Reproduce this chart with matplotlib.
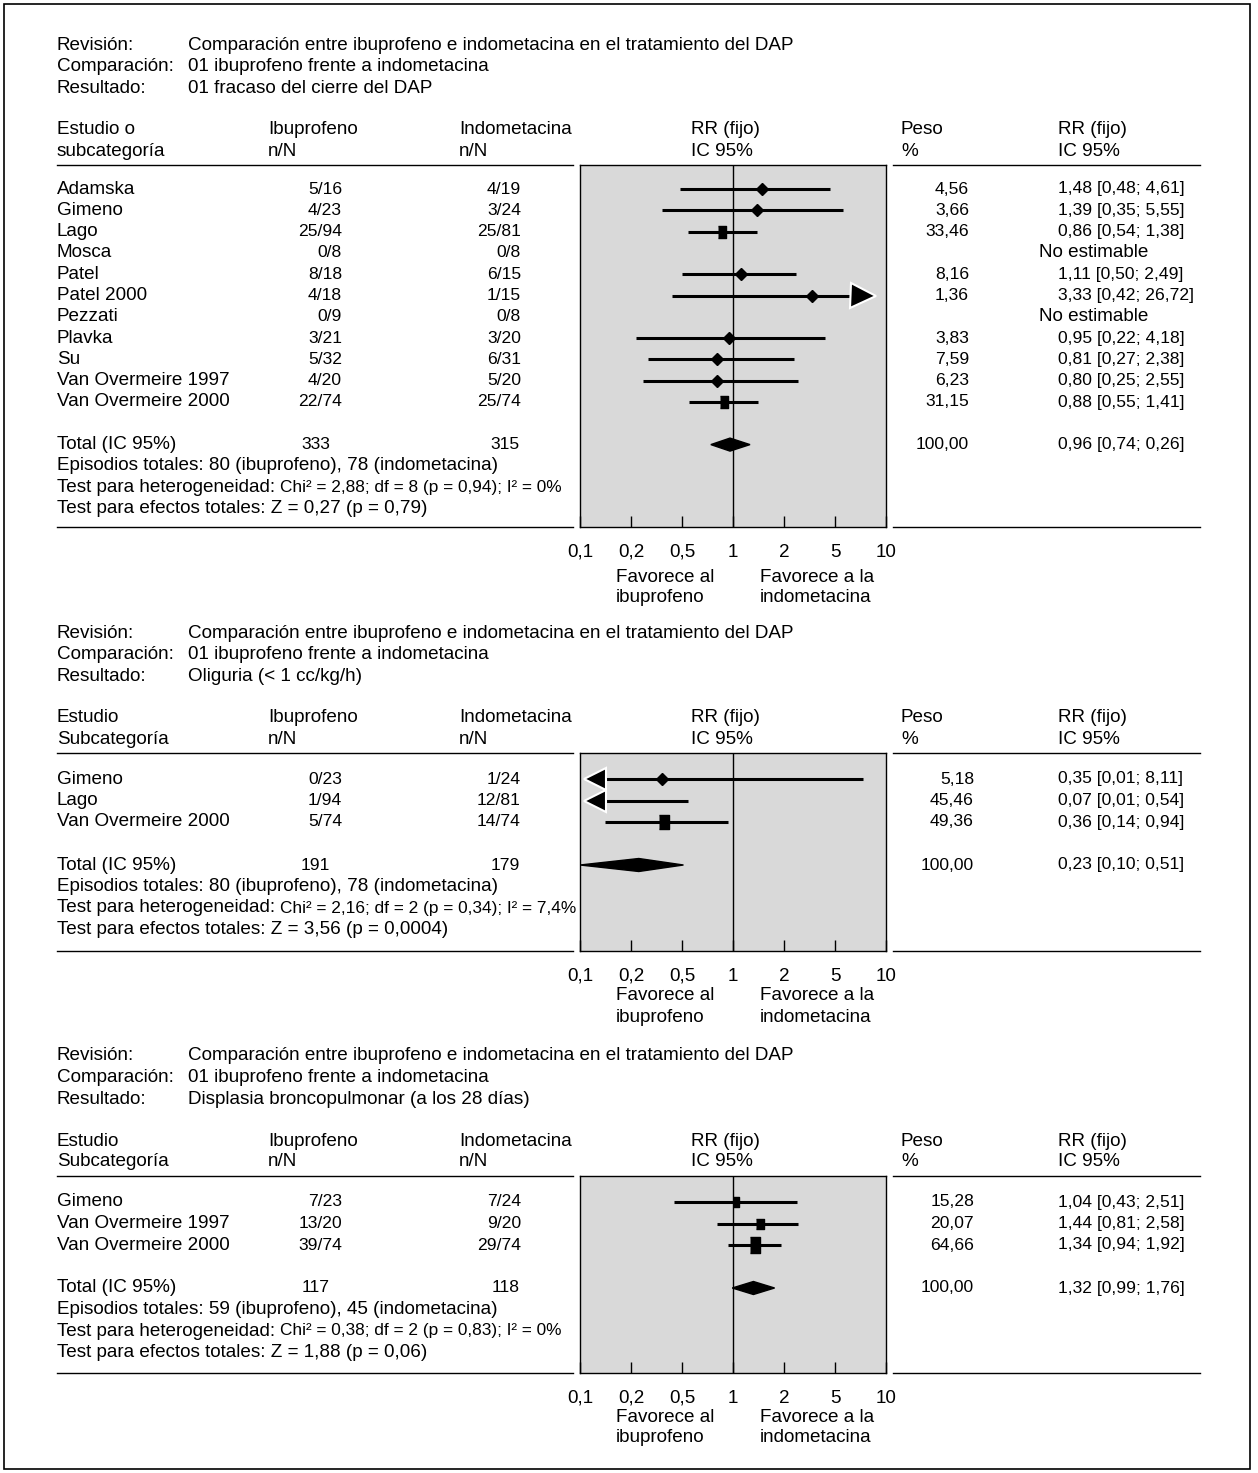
import numpy as np
import matplotlib.pyplot as plt
from matplotlib.patches import Rectangle, Polygon

plt.rcParams['font.family'] = ['Liberation Sans', 'DejaVu Sans']

W, H = 1258, 1473
FS = 13.6      # words
NUM_FS = 12.6  # figures are set a little tighter in the original
HET_FS = 12.4

# ---- data ----
review = 'Comparación entre ibuprofeno e indometacina en el tratamiento del DAP'
comparison = '01 ibuprofeno frente a indometacina'

# panel 1
p1_outcome = '01 fracaso del cierre del DAP'
p1_studies = ['Adamska', 'Gimeno', 'Lago', 'Mosca', 'Patel', 'Patel 2000', 'Pezzati',
              'Plavka', 'Su', 'Van Overmeire 1997', 'Van Overmeire 2000']
p1_ibu = ['5/16', '4/23', '25/94', '0/8', '8/18', '4/18', '0/9', '3/21', '5/32', '4/20', '22/74']
p1_indo = ['4/19', '3/24', '25/81', '0/8', '6/15', '1/15', '0/8', '3/20', '6/31', '5/20', '25/74']
p1_weight = [4.56, 3.66, 33.46, np.nan, 8.16, 1.36, np.nan, 3.83, 7.59, 6.23, 31.15]
p1_rr = [1.48, 1.39, 0.86, np.nan, 1.11, 3.33, np.nan, 0.95, 0.81, 0.80, 0.88]
p1_lo = [0.48, 0.35, 0.54, np.nan, 0.50, 0.42, np.nan, 0.22, 0.27, 0.25, 0.55]
p1_hi = [4.61, 5.55, 1.38, np.nan, 2.49, 26.72, np.nan, 4.18, 2.38, 2.55, 1.41]
p1_total_n = ('333', '315')
p1_total = (0.96, 0.74, 1.26)
p1_total_txt = '0,96 [0,74; 0,26]'   # as printed
p1_events = 'Episodios totales: 80 (ibuprofeno), 78 (indometacina)'
p1_het = 'Chi² = 2,88; df = 8 (p = 0,94); I² = 0%'
p1_z = 'Test para efectos totales: Z = 0,27 (p = 0,79)'

# panel 2
p2_outcome = 'Oliguria (< 1 cc/kg/h)'
p2_studies = ['Gimeno', 'Lago', 'Van Overmeire 2000']
p2_ibu = ['0/23', '1/94', '5/74']
p2_indo = ['1/24', '12/81', '14/74']
p2_weight = [5.18, 45.46, 49.36]
p2_rr = [0.35, 0.07, 0.36]
p2_lo = [0.01, 0.01, 0.14]
p2_hi = [8.11, 0.54, 0.94]
p2_total_n = ('191', '179')
p2_total = (0.23, 0.10, 0.51)
p2_total_txt = '0,23 [0,10; 0,51]'
p2_events = 'Episodios totales: 80 (ibuprofeno), 78 (indometacina)'
p2_het = 'Chi² = 2,16; df = 2 (p = 0,34); I² = 7,4%'
p2_z = 'Test para efectos totales: Z = 3,56 (p = 0,0004)'

# panel 3
p3_outcome = 'Displasia broncopulmonar (a los 28 días)'
p3_studies = ['Gimeno', 'Van Overmeire 1997', 'Van Overmeire 2000']
p3_ibu = ['7/23', '13/20', '39/74']
p3_indo = ['7/24', '9/20', '29/74']
p3_weight = [15.28, 20.07, 64.66]
p3_rr = [1.04, 1.44, 1.34]
p3_lo = [0.43, 0.81, 0.94]
p3_hi = [2.51, 2.58, 1.92]
p3_total_n = ('117', '118')
p3_total = (1.32, 0.99, 1.76)
p3_total_txt = '1,32 [0,99; 1,76]'
p3_events = 'Episodios totales: 59 (ibuprofeno), 45 (indometacina)'
p3_het = 'Chi² = 0,38; df = 2 (p = 0,83); I² = 0%'
p3_z = 'Test para efectos totales: Z = 1,88 (p = 0,06)'

TICKS = [0.1, 0.2, 0.5, 1, 2, 5, 10]
TICK_LABELS = ['0,1', '0,2', '0,5', '1', '2', '5', '10']

# ticks are equally spaced on the printed axis -> piecewise log scale
LT = np.log10(TICKS)
POS = np.arange(len(TICKS), dtype=float)


def fwd(x):
    lx = np.log10(np.clip(np.asarray(x, dtype=float), 1e-9, None))
    y = np.interp(lx, LT, POS)
    y = np.where(lx < LT[0], (lx - LT[0]) / (LT[1] - LT[0]), y)
    y = np.where(lx > LT[-1], POS[-1] + (lx - LT[-1]) / (LT[-1] - LT[-2]), y)
    return y


def inv(y):
    y = np.asarray(y, dtype=float)
    lx = np.interp(y, POS, LT)
    lx = np.where(y < 0, LT[0] + y * (LT[1] - LT[0]), lx)
    lx = np.where(y > POS[-1], LT[-1] + (y - POS[-1]) * (LT[-1] - LT[-2]), lx)
    return 10 ** lx


def fmt(v):
    return f'{v:.2f}'.replace('.', ',')


fig = plt.figure(figsize=(W / 100, H / 100), dpi=100)
bg = fig.add_axes([0, 0, 1, 1])
bg.set_xlim(0, W)
bg.set_ylim(H, 0)
bg.axis('off')
bg.add_patch(Rectangle((4, 4), 1246, 1465, fill=False, lw=1.2, ec='black'))
renderer = fig.canvas.get_renderer()


def txt(x, y, s, ha='left', size=FS):
    return bg.text(x, y, s, ha=ha, va='center', fontsize=size)


# arrow heads sit just inside the box edges (fraction of the scaled axis)
RIGHT_ARROW = float(inv(0.925 * POS[-1]))
LEFT_ARROW = float(inv(0.05 * POS[-1]))


def draw_panel(y0, row0, pitch, axis_y, fav_dy, first_hdr, outcome, studies, ibu, indo,
               weight, rr, lo, hi, total_n, total, total_txt, events, het, ztxt, peso_x):
    # header block
    for i, (lab, val) in enumerate([('Revisión:', review), ('Comparación:', comparison),
                                    ('Resultado:', outcome)]):
        txt(57, y0 + i * 21.7, lab)
        txt(188, y0 + i * 21.7, val)
    h1, h2 = y0 + 85, y0 + 106
    txt(57, h1, first_hdr[0]); txt(57, h2, first_hdr[1])
    txt(268, h1, 'Ibuprofeno'); txt(268, h2, 'n/N')
    txt(459, h1, 'Indometacina'); txt(459, h2, 'n/N')
    txt(691, h1, 'RR (fijo)'); txt(691, h2, 'IC 95%')
    txt(901, h1, 'Peso'); txt(901, h2, '%')
    txt(1058, h1, 'RR (fijo)'); txt(1058, h2, 'IC 95%')
    top = y0 + 120
    for yy in (top, axis_y):
        bg.plot([57, 573], [yy, yy], color='black', lw=1)
        bg.plot([893, 1200], [yy, yy], color='black', lw=1)

    rows = [row0 + i * pitch for i in range(len(studies))]
    for y, s, a, b, w, r, l, h in zip(rows, studies, ibu, indo, weight, rr, lo, hi):
        txt(57, y, s)
        txt(342, y, a, ha='right', size=NUM_FS)
        txt(521, y, b, ha='right', size=NUM_FS)
        if np.isnan(r):
            txt(1039, y, 'No estimable')
        else:
            txt(peso_x, y, fmt(w), ha='right', size=NUM_FS)
            txt(1058, y, f'{fmt(r)} [{fmt(l)}; {fmt(h)}]', size=NUM_FS)
    ty = row0 + (len(studies) + 1) * pitch
    txt(57, ty, 'Total (IC 95%)')
    txt(330, ty, total_n[0], ha='right', size=NUM_FS)
    txt(520, ty, total_n[1], ha='right', size=NUM_FS)
    txt(peso_x, ty, '100,00', ha='right', size=NUM_FS)
    txt(1058, ty, total_txt, size=NUM_FS)
    txt(57, ty + pitch, events)
    lab = txt(57, ty + 2 * pitch, 'Test para heterogeneidad:')
    x_end = bg.transData.inverted().transform(lab.get_window_extent(renderer).p1)[0]
    txt(x_end + 5, ty + 2 * pitch, het, size=HET_FS)
    txt(57, ty + 3 * pitch, ztxt)

    # forest plot box
    ax = fig.add_axes([580 / W, 1 - axis_y / H, 306 / W, (axis_y - top) / H])
    ax.set_facecolor('#d9d9d9')
    ax.set_xscale('function', functions=(fwd, inv))
    ax.set_xlim(0.1, 10)
    ax.set_ylim(axis_y, top)
    ax.set_yticks([])
    ax.set_xticks(TICKS, labels=TICK_LABELS)
    ax.tick_params(axis='x', direction='in', length=8, width=1, labelsize=FS, pad=12)
    for sp in ax.spines.values():
        sp.set_linewidth(1)
    ax.axvline(1, color='black', lw=1)
    for y, w, r, l, h in zip(rows, weight, rr, lo, hi):
        if np.isnan(r):
            continue
        ax.plot([max(l, LEFT_ARROW), min(h, RIGHT_ARROW)], [y, y], color='black', lw=2.2,
                solid_capstyle='butt')
        if w < 10:
            ax.plot([r], [y], marker='D', ms=5.8, color='black', ls='none')
        else:
            hpx = 4 + 1.5 * np.sqrt(w)
            ax.plot([r], [y], marker=[(-0.34, -0.5), (0.34, -0.5), (0.34, 0.5), (-0.34, 0.5)],
                    ms=hpx * 0.72, color='black', ls='none')
        if h > 10:
            ax.plot([RIGHT_ARROW], [y], marker='>', ms=18, color='black', mec='white',
                    mew=1.5, ls='none')
        if l < 0.1:
            ax.plot([LEFT_ARROW], [y], marker='<', ms=16, color='black', mec='white',
                    mew=1.5, ls='none')
    r, l, h = total
    ax.add_patch(Polygon([(l, ty), (r, ty - 6.5), (h, ty), (r, ty + 6.5)], closed=True,
                         color='black'))
    txt(616, axis_y + fav_dy[0], 'Favorece al')
    txt(616, axis_y + fav_dy[1], 'ibuprofeno')
    txt(760, axis_y + fav_dy[0], 'Favorece a la')
    txt(760, axis_y + fav_dy[1], 'indometacina')


draw_panel(45, 189, 21.3, 527, (50, 71), ('Estudio o', 'subcategoría'), p1_outcome,
           p1_studies, p1_ibu, p1_indo, p1_weight, p1_rr, p1_lo, p1_hi,
           p1_total_n, p1_total, p1_total_txt, p1_events, p1_het, p1_z, 969)
draw_panel(633, 779, 21.5, 951, (44, 66), ('Estudio', 'Subcategoría'), p2_outcome,
           p2_studies, p2_ibu, p2_indo, p2_weight, p2_rr, p2_lo, p2_hi,
           p2_total_n, p2_total, p2_total_txt, p2_events, p2_het, p2_z, 974)
draw_panel(1056, 1202, 21.5, 1373, (44, 65), ('Estudio', 'Subcategoría'), p3_outcome,
           p3_studies, p3_ibu, p3_indo, p3_weight, p3_rr, p3_lo, p3_hi,
           p3_total_n, p3_total, p3_total_txt, p3_events, p3_het, p3_z, 974)

fig.savefig('out.png', dpi=100, facecolor='white')
